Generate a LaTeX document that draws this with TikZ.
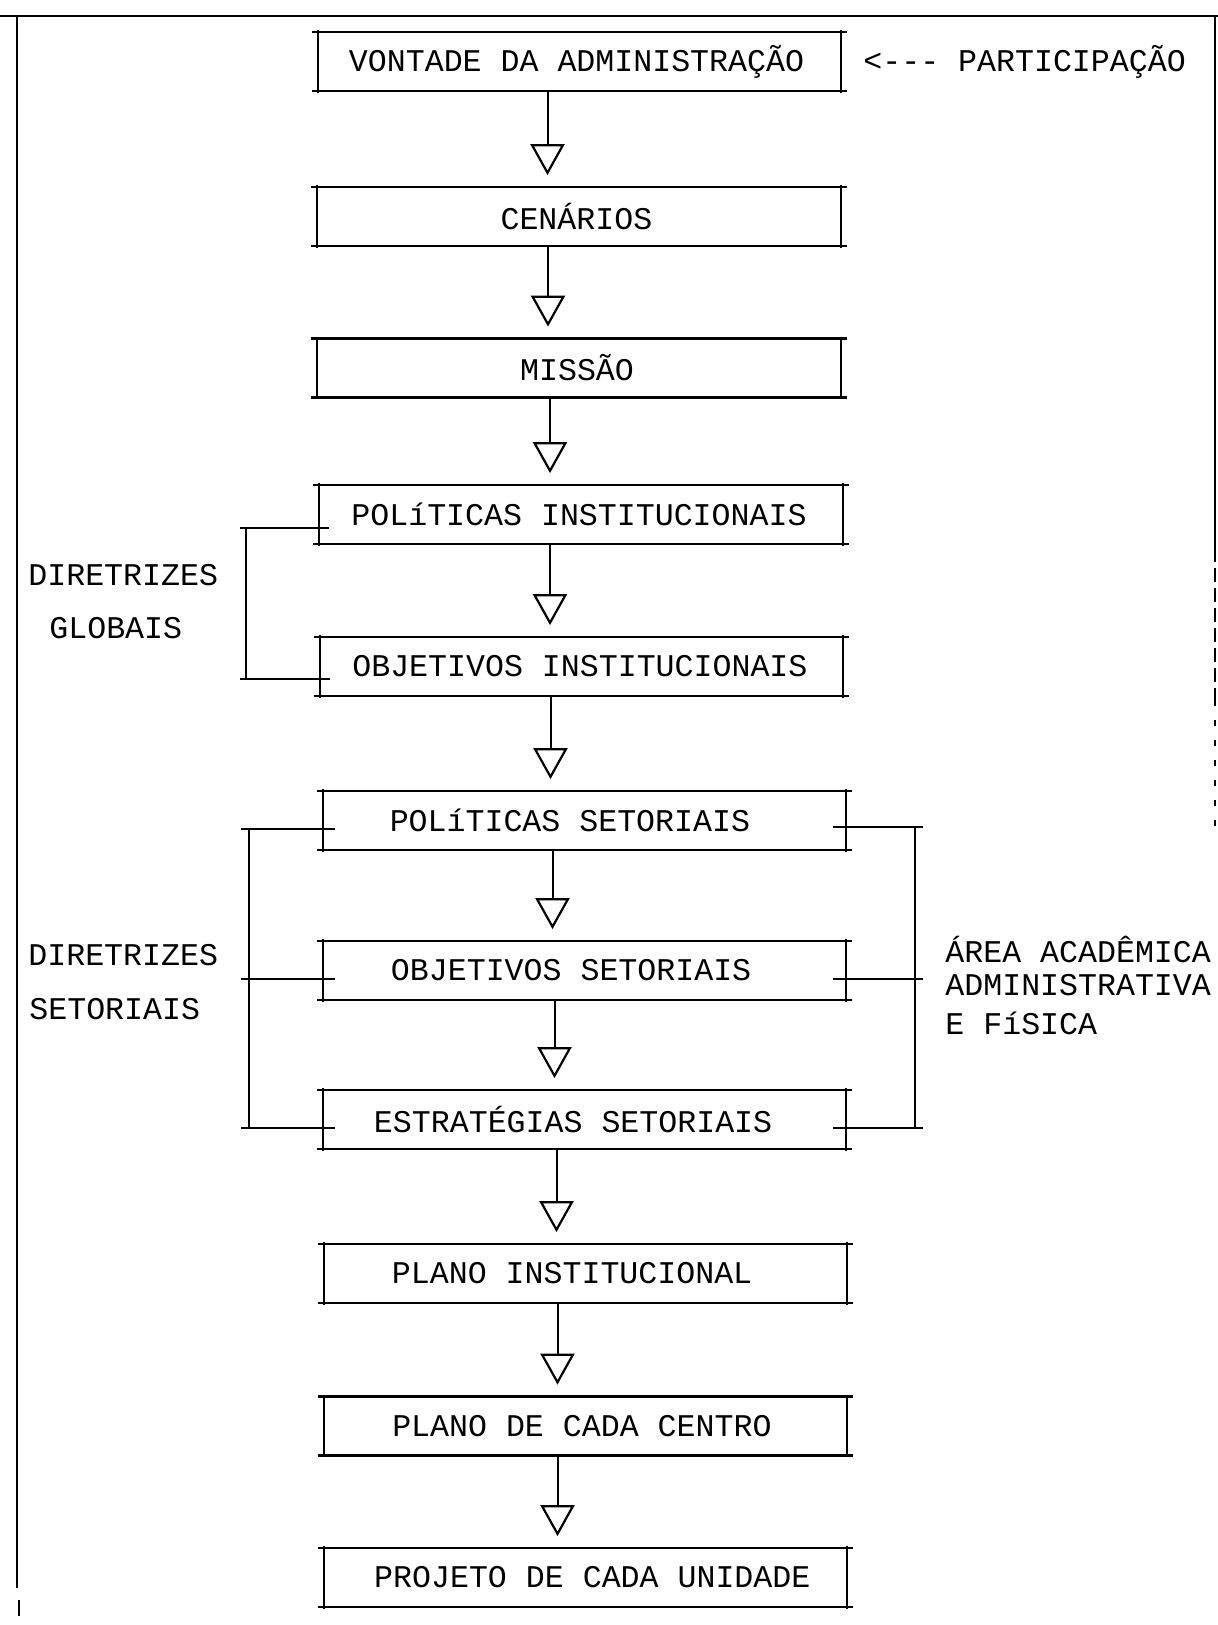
\documentclass[tikz,border=0pt]{standalone}
\usepackage{fontspec}
\setmonofont{Liberation Mono}
\usetikzlibrary{arrows.meta,calc}
\begin{document}
\begin{tikzpicture}[x=0.5pt,y=-0.5pt,
  every node/.style={font=\ttfamily\fontsize{15.8}{19}\selectfont},
  box/.style={minimum width=261.5pt,minimum height=29pt,inner sep=0pt,draw=none},
  hline/.style={line width=1.3pt},
  vline/.style={line width=1pt},
  flow/.style={line width=1pt,-{Triangle[open,length=15.5pt,width=17pt,line width=1.1pt]}},
  bracket/.style={line width=1pt},
  lbl/.style={anchor=west,inner sep=0pt},
  frame/.style={line width=1.2pt}]
\useasboundingbox (0,0) rectangle (1218,1625);
\fill[white] (0,0) rectangle (1218,1625);
% frame
\draw[frame] (0,16) -- (1218,16);
\draw[frame] (17,16) -- (17,1588);
\draw[frame] (19,1600) -- (19,1616);
\draw[frame] (1215,16) -- (1215,548);
\draw[frame,dash pattern=on 7pt off 3pt] (1215,548) -- (1215,700);
\draw[frame,dash pattern=on 3pt off 7pt] (1215,700) -- (1215,840);
% boxes
\node[box,label={[xshift=-1.5pt]center:VONTADE DA ADMINISTRAÇÃO}] (b1) at (579.5,61.5) {};
\node[box,label={[xshift=-1.3pt]center:CENÁRIOS}] (b2) at (579,216.5) {};
\node[box,label={[xshift=-1pt]center:MISSÃO}] (b3) at (579,368) {};
\node[box,label={[xshift=-1pt]center:POLíTICAS INSTITUCIONAIS}] (b4) at (581,514.5) {};
\node[box,label={[xshift=-0.8pt]center:OBJETIVOS INSTITUCIONAIS}] (b5) at (581.5,666.5) {};
\node[box,label={[xshift=-7.3pt]center:POLíTICAS SETORIAIS}] (b6) at (584.5,820.5) {};
\node[box,label={[xshift=-6.7pt]center:OBJETIVOS SETORIAIS}] (b7) at (584.5,970.5) {};
\node[box,label={[xshift=-5.7pt]center:ESTRATÉGIAS SETORIAIS}] (b8) at (584.5,1119.5) {};
\node[box,label={[xshift=-6.7pt]center:PLANO INSTITUCIONAL}] (b9) at (585.5,1273.5) {};
\node[box,label={[xshift=-1.8pt]center:PLANO DE CADA CENTRO}] (b10) at (585.5,1426) {};
\node[box,label={[xshift=3.4pt]center:PROJETO DE CADA UNIDADE}] (b11) at (585.5,1577.5) {};
\foreach \n in {b1,b2,b3,b4,b5,b6,b7,b8,b9,b10,b11} {
  \draw[hline] ([xshift=-3pt]\n.north west) -- ([xshift=3pt]\n.north east);
  \draw[hline] ([xshift=-3pt]\n.south west) -- ([xshift=3pt]\n.south east);
  \draw[vline] ([yshift=1pt]\n.north west) -- ([yshift=-1pt]\n.south west);
  \draw[vline] ([yshift=1pt]\n.north east) -- ([yshift=-1pt]\n.south east);
}
% flow arrows
\foreach \a/\b/\d in {b1/b2/-16pt, b2/b3/-15.5pt, b3/b4/-14.5pt, b4/b5/-15.5pt, b5/b6/-15.5pt, b6/b7/-16pt, b7/b8/-15pt, b8/b9/-14pt, b9/b10/-14pt, b10/b11/-14pt} {
  \draw[flow] ([xshift=\d]\a.south) coordinate (s) -- ($(s |- \b.north)+(0,6pt)$);
}
% left bracket: diretrizes globais
\coordinate (gx) at (246,0);
\coordinate (g1) at ([shift={(5pt,-7pt)}]b4.west);
\coordinate (g2) at ([shift={(5pt,-6pt)}]b5.west);
\draw[bracket] ($(g1 -| gx)+(-3pt,0)$) -- (g1);
\draw[bracket] ($(g2 -| gx)+(-3pt,0)$) -- (g2);
\draw[bracket] (g1 -| gx) -- (g2 -| gx);
% left bracket: diretrizes setoriais
\coordinate (sx) at (249,0);
\coordinate (s1) at ([shift={(6pt,-4.25pt)}]b6.west);
\coordinate (s2) at ([shift={(6pt,-4.25pt)}]b7.west);
\coordinate (s3) at ([shift={(6pt,-4.25pt)}]b8.west);
\foreach \p in {s1,s2,s3} {
  \draw[bracket] ($(\p -| sx)+(-4pt,0)$) -- (\p);
}
\draw[bracket] (s1 -| sx) -- (s3 -| sx);
% right bracket: area
\coordinate (rx) at (915,0);
\coordinate (r1) at ([shift={(-6.5pt,-3pt)}]b6.east);
\coordinate (r2) at ([shift={(-6.5pt,-4pt)}]b7.east);
\coordinate (r3) at ([shift={(-6.5pt,-4.25pt)}]b8.east);
\foreach \p in {r1,r2,r3} {
  \draw[bracket] (\p) -- ($(\p -| rx)+(4pt,0)$);
}
\draw[bracket] (r1 -| rx) -- (r3 -| rx);
% labels
\node[lbl] (part) at (863,62) {<--- PARTICIPAÇÃO};
\node[lbl] (dg1) at (28,575) {DIRETRIZES};
\node[lbl] (dg2) at (49,628) {GLOBAIS};
\node[lbl] (ds1) at (28,955) {DIRETRIZES};
\node[lbl] (ds2) at (29,1009) {SETORIAIS};
\node[lbl] (ar1) at (945,950) {ÁREA ACADÊMICA};
\node[lbl] (ar2) at (945,985) {ADMINISTRATIVA};
\node[lbl] (ar3) at (945,1023) {E FíSICA};
\end{tikzpicture}
\end{document}
